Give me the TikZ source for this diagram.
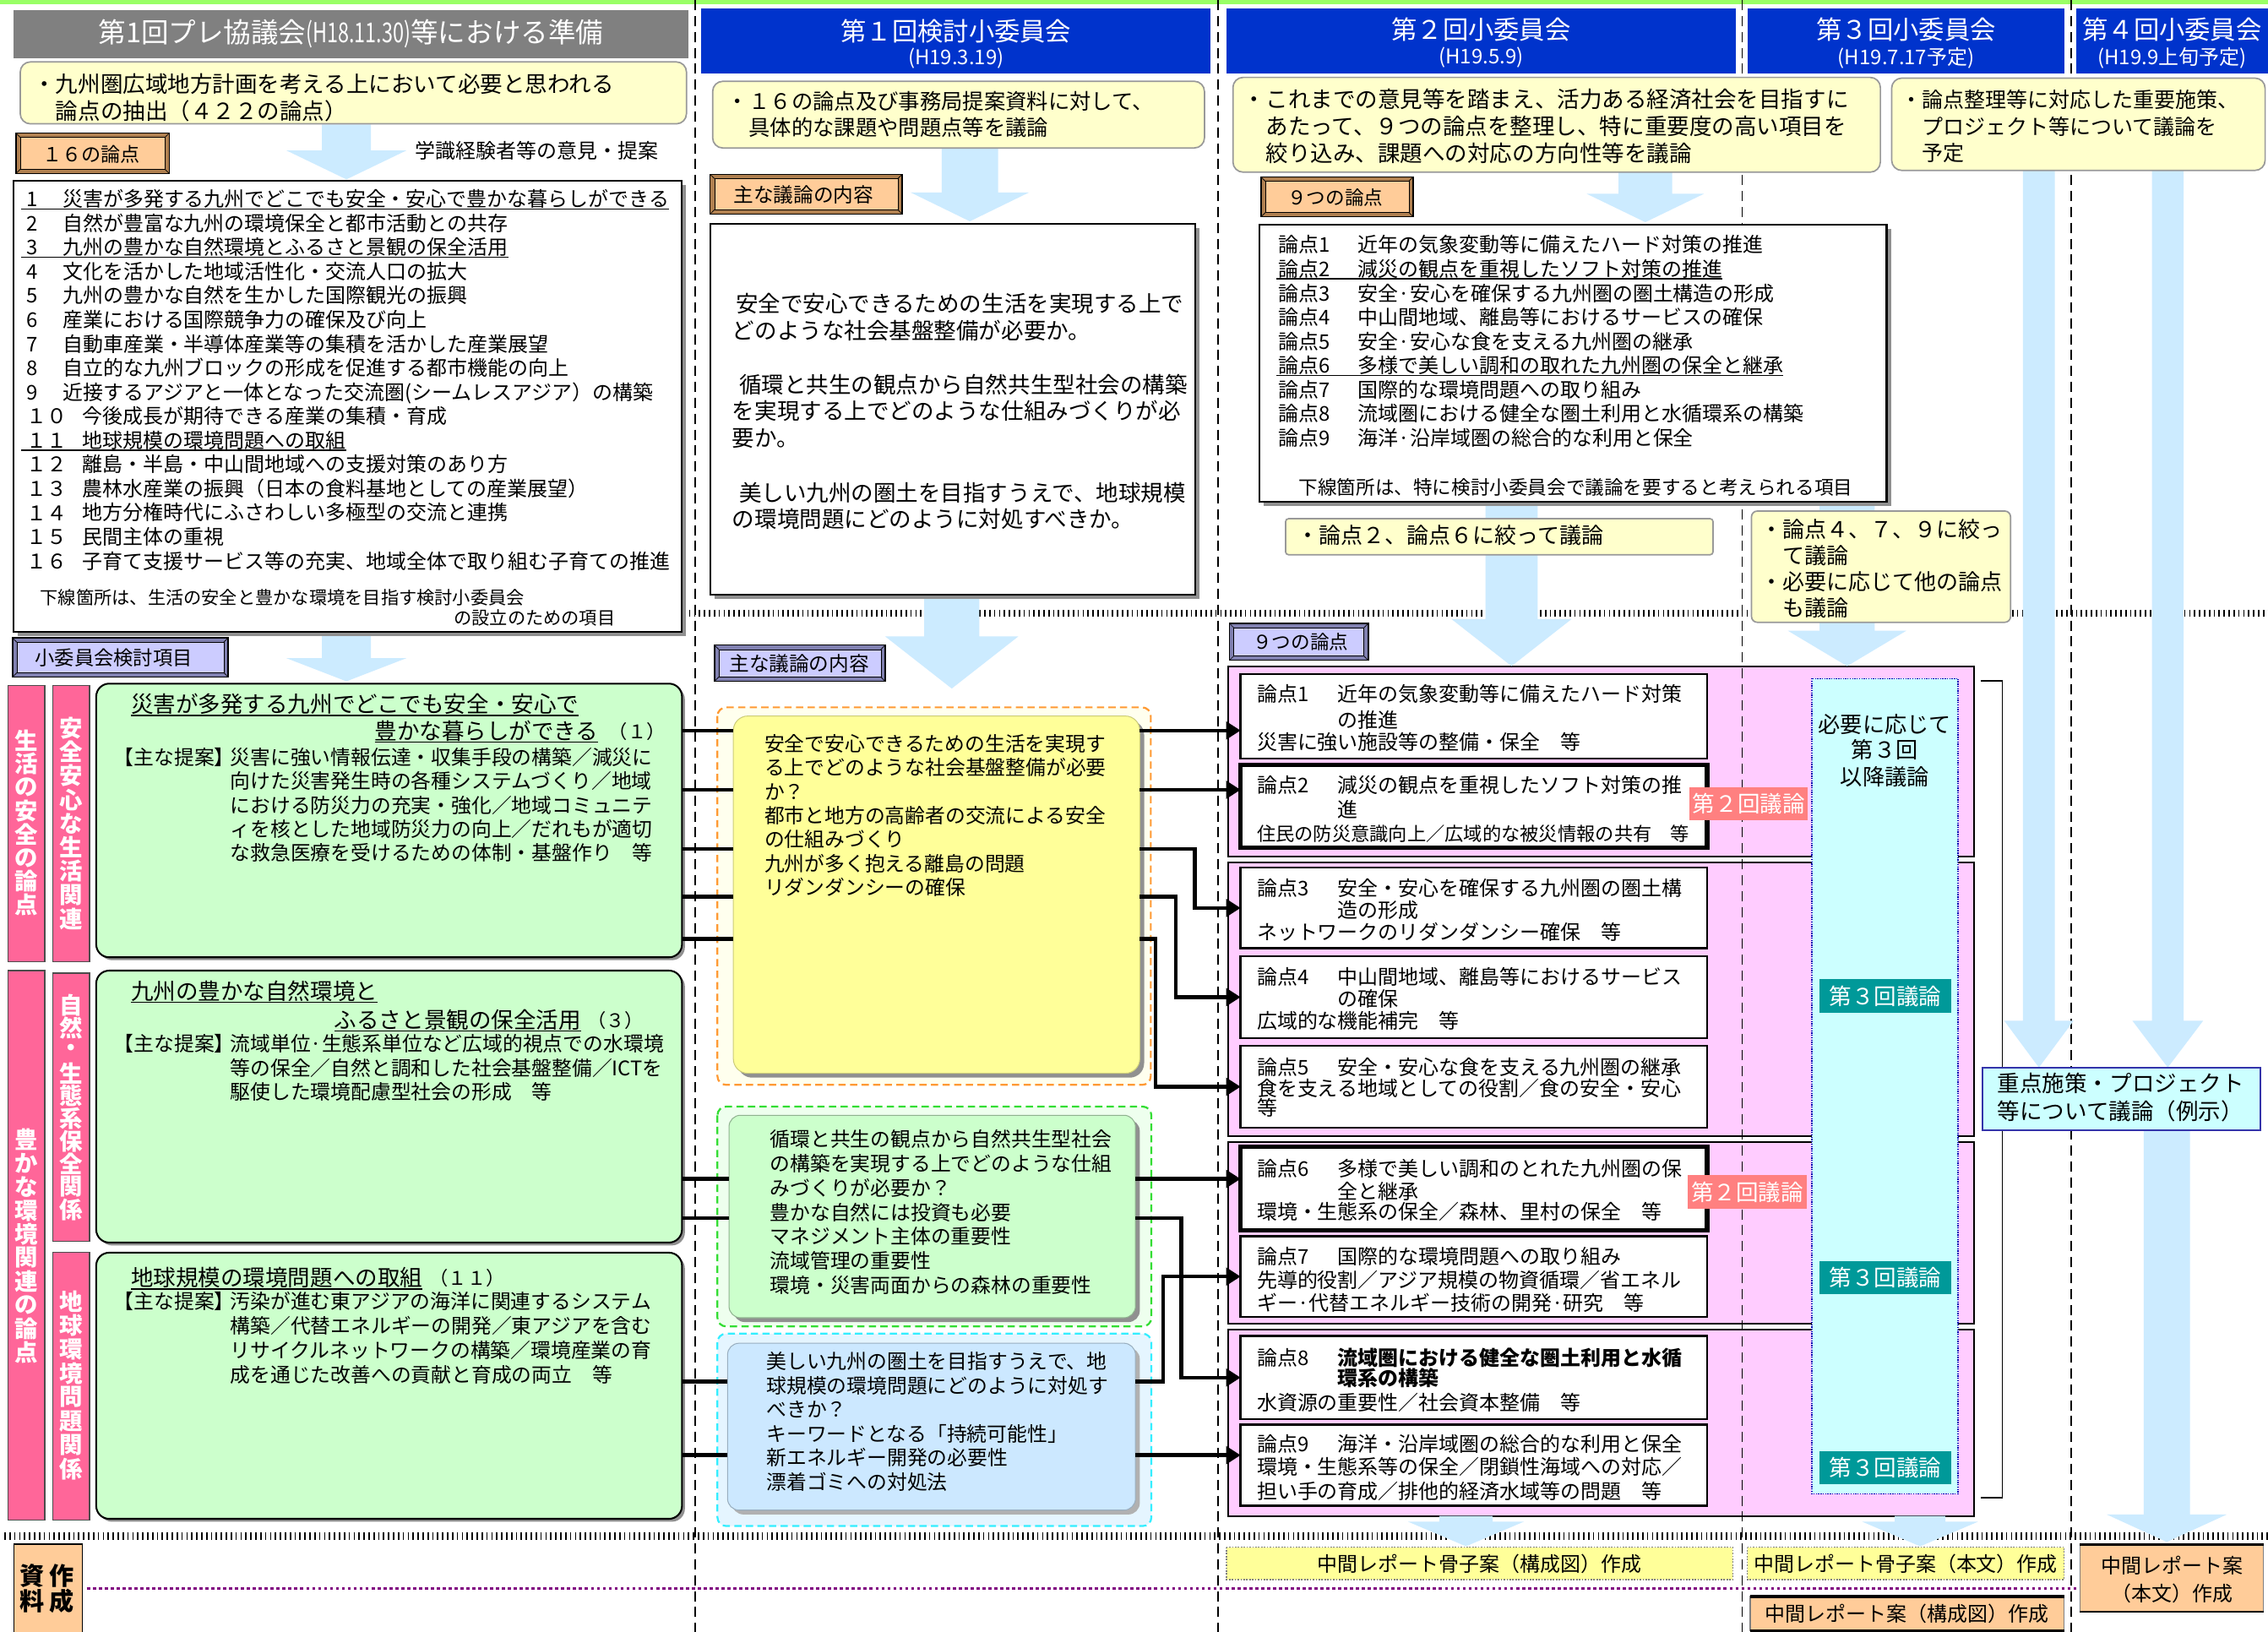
\documentclass[tikz,border=0pt]{standalone}
\usepackage{fontspec}
\usepackage{graphicx}
\setmainfont{Noto Sans CJK JP}
\usetikzlibrary{arrows.meta,calc}
\definecolor{topgreen}{HTML}{99FF66}
\definecolor{hdrgray}{HTML}{808080}
\definecolor{hdrblue}{HTML}{0033CC}
\definecolor{ylw}{HTML}{FFFFCC}
\definecolor{ylwbd}{HTML}{999999}
\definecolor{lblue}{HTML}{CCEBFF}
\definecolor{obtn}{HTML}{FFCC99}
\definecolor{obev}{HTML}{B08050}
\definecolor{lbtn}{HTML}{CCCCFF}
\definecolor{lbev}{HTML}{8080B0}
\definecolor{pinkbar}{HTML}{FF6699}
\definecolor{gbox}{HTML}{CCFFCC}
\definecolor{pinkreg}{HTML}{FFCCFF}
\definecolor{cyanbox}{HTML}{CCFFFF}
\definecolor{tealc}{HTML}{009999}
\definecolor{salmon}{HTML}{FF8080}
\definecolor{myel}{HTML}{FFFF99}
\definecolor{myelbg}{HTML}{FFFFEE}
\definecolor{mgrnbg}{HTML}{EEFFEE}
\definecolor{mblu}{HTML}{CCE8FF}
\definecolor{mblubg}{HTML}{E5F5FF}
\definecolor{dorange}{HTML}{FF9933}
\definecolor{dgreen}{HTML}{33DD33}
\definecolor{dcyan}{HTML}{33EEFF}
\definecolor{shadowc}{HTML}{909090}
\definecolor{jbd}{HTML}{3333AA}
\definecolor{purp}{HTML}{800080}
\newcommand\fs[1]{\fontsize{#1}{#1}\selectfont}
\newcommand\mlines[6]{\foreach \tline [count=\ii from 1] in {#6}{\node[tx,font=#5] (#1\ii) at (#2,{#3+(\ii-1)*#4}) {\tline};}}
\newcommand\vtext[5]{\foreach \tch [count=\ii from 0] in {#5}{\node[vt] (#1\ii) at (#2,{#3+\ii*#4}) {\tch};}}
\newcommand\barrow[6]{\fill[lblue] ({#1-#5},#2) -- ({#1+#5},#2) -- ({#1+#5},#3) -- ({#1+#6},#3) -- (#1,#4) -- ({#1-#6},#3) -- ({#1-#5},#3) -- cycle;}
\newcommand\btn[6]{\fill[#2] (#3,#4) rectangle (#5,#6);
  \fill[#1] ({#3+3},{#4+3}) rectangle ({#5-3},{#6-3});
  \draw[black,line width=0.8] (#3,#4) rectangle (#5,#6);
  \draw[black,line width=0.4] ({#3+3},{#4+3}) rectangle ({#5-3},{#6-3});
  \draw[black,line width=0.4] (#3,#4) -- ({#3+3},{#4+3}) (#5,#4) -- ({#5-3},{#4+3}) (#3,#6) -- ({#3+3},{#6-3}) (#5,#6) -- ({#5-3},{#6-3});}
\begin{document}
\begin{tikzpicture}[x=1pt,y=-1pt,
  tx/.style={anchor=base west,inner sep=0,outer sep=0},
  ct/.style={anchor=center,inner sep=0,outer sep=0},
  vt/.style={anchor=center,inner sep=0,text=white,font=\fs{16}\bfseries},
  conn/.style={line width=2.6,black},
  arr/.style={line width=2.6,black,-{Triangle[length=10pt,width=12pt]}},
  box/.style={anchor=north west,inner sep=0,outer sep=0}]
\useasboundingbox (0,0) rectangle (1568,1128);
\fill[white] (0,0) rectangle (1568,1128);
\fill[topgreen] (0,0) rectangle (1568,3);

% pink regions
\foreach \ya/\yb in {460.5/591.9, 596.2/785.5, 789.4/915, 919/1048}
  \draw[fill=pinkreg,draw=black,line width=1.2] (849.3,\ya) rectangle (1364.5,\yb);

% dashed separators
\foreach \xx in {480.5,842,1204.5,1432}
  \draw[black,line width=0.9,dash pattern=on 7pt off 4pt] (\xx,0) -- (\xx,1128);

% tick lines
\draw[black,line width=5,dash pattern=on 1pt off 2.4pt] (473,424) -- (1568,424);
\draw[black,line width=5.5,dash pattern=on 1pt off 2.4pt] (3,1062) -- (1568,1062);
\draw[purp,line width=2,dash pattern=on 2.2pt off 1.9pt] (60,1098.3) -- (1438,1098.3);

% block arrows
\barrow{239.5}{86}{104}{124}{17}{41.5}
\barrow{239.5}{436.8}{455}{471}{17}{41.5}
\barrow{670.5}{102.3}{133}{153}{19.5}{41}
\barrow{658}{411.2}{440}{476}{19}{46}
\barrow{1137.5}{119}{134}{153.6}{18.5}{40.5}
\barrow{1045}{347}{428}{460.5}{18}{41.5}
\barrow{1277}{347}{436}{460.5}{19}{41}
\barrow{1409.6}{118}{705.6}{738}{11}{24}
\barrow{1498.7}{118}{705.6}{738}{11}{24.5}
\barrow{1498}{781}{1047}{1066}{16}{41.5}
\barrow{1013.5}{1048}{1052}{1069}{18.5}{40}
\barrow{1327.5}{1048}{1052}{1069}{17.5}{40}

% ===== column 1 =====
\fill[hdrgray] (9.3,6.8) rectangle (476,40);
\node[ct,text=white,font=\fs{19}] (h1) at (242.6,23.5) {第1回プレ協議会\scalebox{0.72}[1]{(H18.11.30)}等における準備};
\draw[fill=ylw,draw=ylwbd,line width=1,rounded corners=7] (14,42.8) rectangle (474.6,85.6);
\mlines{ya}{23}{64.2}{18.5}{\fs{15.5}}{・九州圏広域地方計画を考える上において必要と思われる,　論点の抽出（４２２の論点）}
\btn{obtn}{obev}{11}{92}{117}{120}
\node[anchor=west,inner sep=0,font=\fs{13.5}] (b16) at (29,106.5) {１６の論点};
\node[anchor=west,inner sep=0,font=\fs{14}] (gk) at (287,104) {学識経験者等の意見・提案};

\fill[shadowc] (12.3,128) rectangle (474.4,439.8);
\draw[fill=white,draw=black,line width=1.2] (9.3,125) rectangle (471.4,436.8);
\mlines{ln}{18.5}{142.9}{16.68}{\fs{14}}{1,2,3,4,5,6,7,8,9,１０,１１,１２,１３,１４,１５,１６}
\mlines{lt}{43.3}{142.9}{16.68}{\fs{14}}{災害が多発する九州でどこでも安全・安心で豊かな暮らしができる,自然が豊富な九州の環境保全と都市活動との共存,九州の豊かな自然環境とふるさと景観の保全活用,文化を活かした地域活性化・交流人口の拡大,九州の豊かな自然を生かした国際観光の振興,産業における国際競争力の確保及び向上,自動車産業・半導体産業等の集積を活かした産業展望,自立的な九州ブロックの形成を促進する都市機能の向上,近接するアジアと一体となった交流圏(シームレスアジア）の構築}
\mlines{lu}{57.2}{293}{16.68}{\fs{14}}{今後成長が期待できる産業の集積・育成,地球規模の環境問題への取組,離島・半島・中山間地域への支援対策のあり方,農林水産業の振興（日本の食料基地としての産業展望）,地方分権時代にふさわしい多極型の交流と連携,民間主体の重視,子育て支援サービス等の充実、地域全体で取り組む子育ての推進}
\draw[line width=0.9] ($(lt1.base west)+(-28.5,1.6)$) -- ($(lt1.base east)+(0,1.6)$);
\draw[line width=0.9] ($(lt3.base west)+(-28.5,1.6)$) -- ($(lt3.base east)+(0,1.6)$);
\draw[line width=0.9] ($(lu2.base west)+(-42.4,1.6)$) -- ($(lu2.base east)+(0,1.6)$);
\node[tx,font=\fs{12.4}] (lf1) at (27.8,417.6) {下線箇所は、生活の安全と豊かな環境を目指す検討小委員会};
\node[tx,font=\fs{12.4}] (lf2) at (313.8,432.1) {の設立のための項目};

\btn{lbtn}{lbev}{8.7}{441}{157.7}{468}
\node[anchor=west,inner sep=0,font=\fs{13.6}] (sk) at (24,455) {小委員会検討項目};

% pink bars
\draw[fill=pinkbar,draw=black!70,line width=0.8] (5.6,474) rectangle (30.9,664.7);
\draw[fill=pinkbar,draw=black!70,line width=0.8] (36.5,474) rectangle (61.8,664.7);
\draw[fill=pinkbar,draw=black!70,line width=0.8] (5.6,671) rectangle (30.9,1051);
\draw[fill=pinkbar,draw=black!70,line width=0.8] (36.5,672.8) rectangle (61.8,858);
\draw[fill=pinkbar,draw=black!70,line width=0.8] (36.5,865.7) rectangle (61.8,1051);
\vtext{va}{18.2}{512}{16.2}{生,活,の,安,全,の,論,点}
\vtext{vb}{49.1}{503.3}{16.5}{安,全,安,心,な,生,活,関,連}
\vtext{vc}{18.2}{788}{16.3}{豊,か,な,環,境,関,連,の,論,点}
\vtext{vd}{49.1}{694.8}{15.7}{自,然,・,生,態,系,保,全,関,係}
\vtext{ve}{49.1}{899.9}{16.5}{地,球,環,境,問,題,関,係}

% green boxes
\fill[shadowc,rounded corners=9] (68.5,474.6) rectangle (473.5,663.8);
\node[box,draw=black,line width=1.2,fill=gbox,rounded corners=9,minimum width=405,minimum height=189.2] (G1) at (66.5,472.6) {};
\fill[shadowc,rounded corners=9] (68.5,673) rectangle (473.5,861);
\node[box,draw=black,line width=1.2,fill=gbox,rounded corners=9,minimum width=405,minimum height=188] (G2) at (66.5,671) {};
\fill[shadowc,rounded corners=9] (68.5,868) rectangle (473.5,1052);
\node[box,draw=black,line width=1.2,fill=gbox,rounded corners=9,minimum width=405,minimum height=184] (G3) at (66.5,866) {};

\node[tx,font=\fs{15.5}] (g1a) at (90.6,492.6) {災害が多発する九州でどこでも安全・安心で};
\node[tx,font=\fs{15.5}] (g1b) at (259,511) {豊かな暮らしができる};
\node[tx,font=\fs{13}] (g1c) at (421,510.5) {（１）};
\draw[line width=0.9] ($(g1a.base west)+(0,2)$) -- ($(g1a.base east)+(0,2)$);
\draw[line width=0.9] ($(g1b.base west)+(0,2)$) -- ($(g1b.base east)+(0,2)$);
\node[tx,font=\fs{13.9}] (g1d) at (78.8,528.7) {【主な提案】};
\mlines{gA}{159.2}{528.7}{16.55}{\fs{13.9}}{災害に強い情報伝達・収集手段の構築／減災に,向けた災害発生時の各種システムづくり／地域,における防災力の充実・強化／地域コミュニテ,ィを核とした地域防災力の向上／だれもが適切,な救急医療を受けるための体制・基盤作り　等}

\node[tx,font=\fs{15.5}] (g2a) at (90.6,691) {九州の豊かな自然環境と};
\node[tx,font=\fs{15.5}] (g2b) at (231.2,710.7) {ふるさと景観の保全活用};
\node[tx,font=\fs{13}] (g2c) at (406,710.2) {（３）};
\draw[line width=0.9] ($(g2a.base west)+(0,2)$) -- ($(g2a.base east)+(0,2)$);
\draw[line width=0.9] ($(g2b.base west)+(0,2)$) -- ($(g2b.base east)+(0,2)$);
\node[tx,font=\fs{13.9}] (g2d) at (78.8,727) {【主な提案】};
\mlines{gB}{159.2}{727}{16.5}{\fs{13.9}}{流域単位·生態系単位など広域的視点での水環境,等の保全／自然と調和した社会基盤整備／ICTを,駆使した環境配慮型社会の形成　等}

\node[tx,font=\fs{15.5}] (g3a) at (90.6,889) {地球規模の環境問題への取組};
\node[tx,font=\fs{13}] (g3c) at (297,888.5) {（１１）};
\draw[line width=0.9] ($(g3a.base west)+(0,2)$) -- ($(g3a.base east)+(0,2)$);
\node[tx,font=\fs{13.9}] (g3d) at (78.8,905.1) {【主な提案】};
\mlines{gC}{159.2}{905.1}{16.83}{\fs{13.9}}{汚染が進む東アジアの海洋に関連するシステム,構築／代替エネルギーの開発／東アジアを含む,リサイクルネットワークの構築／環境産業の育,成を通じた改善への貢献と育成の両立　等}

% ===== column 2 =====
\fill[hdrblue] (484.8,5.9) rectangle (837,50.9);
\node[ct,text=white,font=\fs{17.7}] (h2a) at (661,21.4) {第１回検討小委員会};
\node[ct,text=white,font=\fs{14}] (h2b) at (661,40.2) {(H19.3.19)};
\draw[fill=ylw,draw=ylwbd,line width=1,rounded corners=7] (492.7,56.2) rectangle (832.7,102.3);
\mlines{yb}{502.8}{75.5}{18.4}{\fs{14.8}}{・１６の論点及び事務局提案資料に対して、,　具体的な課題や問題点等を議論}
\btn{obtn}{obev}{491}{120.5}{623.7}{148}
\node[anchor=west,inner sep=0,font=\fs{13.8}] (bn2) at (507,134.5) {主な議論の内容};
\fill[shadowc] (494.3,157.8) rectangle (829.4,414.2);
\draw[fill=white,draw=black,line width=1.2] (491.3,154.8) rectangle (826.4,411.2);
\node[tx,font=\fs{15.5}] (w1) at (508.7,216) {安全で安心できるための生活を実現する上で};
\node[tx,font=\fs{15.5}] (w2) at (506.3,234.7) {どのような社会基盤整備が必要か。};
\node[tx,font=\fs{15.5}] (w3) at (511,271.7) {循環と共生の観点から自然共生型社会の構築};
\node[tx,font=\fs{15.5}] (w4) at (506.3,289.7) {を実現する上でどのような仕組みづくりが必};
\node[tx,font=\fs{15.5}] (w5) at (506.3,308.4) {要か。};
\node[tx,font=\fs{15.5}] (w6) at (511,346.4) {美しい九州の圏土を目指すうえで、地球規模};
\node[tx,font=\fs{15.5}] (w7) at (506.3,364.7) {の環境問題にどのように対処すべきか。};
\btn{lbtn}{lbev}{494}{446}{612}{471}
\node[anchor=west,inner sep=0,font=\fs{13.8}] (bn3) at (504,458.5) {主な議論の内容};

% mid boxes
\draw[fill=myelbg,draw=dorange,line width=1.3,dash pattern=on 5pt off 3pt,rounded corners=6] (496,489) rectangle (795.6,750);
\fill[shadowc,rounded corners=10] (510,498) rectangle (791,745);
\node[box,fill=myel,draw=myel!80!black,line width=0.6,rounded corners=10,minimum width=281,minimum height=247] (MY) at (507,495) {};
\mlines{my}{528.5}{519.4}{16.55}{\fs{13.9}}{安全で安心できるための生活を実現す,る上でどのような社会基盤整備が必要,か？,都市と地方の高齢者の交流による安全,の仕組みづくり,九州が多く抱える離島の問題,リダンダンシーの確保}

\draw[fill=mgrnbg,draw=dgreen,line width=1.3,dash pattern=on 5pt off 3pt,rounded corners=6] (496,765) rectangle (796,917);
\fill[shadowc,rounded corners=8] (507,774) rectangle (788,914);
\node[box,fill=gbox,draw=gbox!70!black,line width=0.6,rounded corners=8,minimum width=281,minimum height=140] (MG) at (504,771) {};
\mlines{mg}{532.4}{793}{16.77}{\fs{13.9}}{循環と共生の観点から自然共生型社会,の構築を実現する上でどのような仕組,みづくりが必要か？,豊かな自然には投資も必要,マネジメント主体の重要性,流域管理の重要性,環境・災害両面からの森林の重要性}

\draw[fill=mblubg,draw=dcyan,line width=1.3,dash pattern=on 5pt off 3pt,rounded corners=6] (496,922) rectangle (796,1055);
\fill[shadowc!70,rounded corners=8] (506,931.6) rectangle (788,1047);
\node[box,fill=mblu,draw=mblu!75!black,line width=0.6,rounded corners=8,minimum width=282,minimum height=115.4] (MB) at (503,928.6) {};
\mlines{mb}{530}{946.6}{16.6}{\fs{13.9}}{美しい九州の圏土を目指すうえで、地,球規模の環境問題にどのように対処す,べきか？,キーワードとなる「持続可能性」,新エネルギー開発の必要性,漂着ゴミへの対処法}

% ===== column 3-5 headers =====
\fill[hdrblue] (848,5.8) rectangle (1200,51);
\node[ct,text=white,font=\fs{17.7}] (h3a) at (1024,20.4) {第２回小委員会};
\node[ct,text=white,font=\fs{14}] (h3b) at (1024,40) {(H19.5.9)};
\fill[hdrblue] (1208.2,5.8) rectangle (1427.5,51);
\node[ct,text=white,font=\fs{17.7}] (h4a) at (1317.8,20.4) {第３回小委員会};
\node[ct,text=white,font=\fs{14}] (h4b) at (1317.8,40) {(H19.7.17予定)};
\fill[hdrblue] (1435.4,5.8) rectangle (1568,51);
\node[ct,text=white,font=\fs{17.7}] (h5a) at (1501.7,20.4) {第４回小委員会};
\node[ct,text=white,font=\fs{14}] (h5b) at (1501.7,40) {(H19.9上旬予定)};

\draw[fill=ylw,draw=ylwbd,line width=1,rounded corners=7] (852.4,53.5) rectangle (1300,119);
\mlines{yc}{859.6}{74.7}{18.55}{\fs{15.5}}{・これまでの意見等を踏まえ、活力ある経済社会を目指すに,　あたって、９つの論点を整理し、特に重要度の高い項目を,　絞り込み、課題への対応の方向性等を議論}
\draw[fill=ylw,draw=ylwbd,line width=1,rounded corners=7] (1307.8,54) rectangle (1566,117.8);
\mlines{yd}{1314}{74.4}{18.55}{\fs{14.6}}{・論点整理等に対応した重要施策、,　プロジェクト等について議論を,　予定}

\btn{obtn}{obev}{871.8}{122.3}{977}{149.9}
\node[anchor=west,inner sep=0,font=\fs{13.2}] (b9) at (890,136.5) {９つの論点};
\fill[shadowc] (873.9,158.3) rectangle (1307.3,350);
\draw[fill=white,draw=black,line width=1.2] (870.9,155.3) rectangle (1304.3,347);
\mlines{pl}{883.6}{174.6}{16.66}{\fs{14}}{論点1,論点2,論点3,論点4,論点5,論点6,論点7,論点8,論点9}
\mlines{pc}{939}{174.6}{16.66}{\fs{14}}{近年の気象変動等に備えたハード対策の推進,減災の観点を重視したソフト対策の推進,安全·安心を確保する九州圏の圏土構造の形成,中山間地域、離島等におけるサービスの確保,安全·安心な食を支える九州圏の継承,多様で美しい調和の取れた九州圏の保全と継承,国際的な環境問題への取り組み,流域圏における健全な圏土利用と水循環系の構築,海洋·沿岸域圏の総合的な利用と保全}
\draw[line width=0.9] ($(pl2.base west)+(-1,1.6)$) -- ($(pc2.base east)+(0,1.6)$);
\draw[line width=0.9] ($(pl6.base west)+(-1,1.6)$) -- ($(pc6.base east)+(0,1.6)$);
\node[tx,font=\fs{13.2}] (pf) at (898,342) {下線箇所は、特に検討小委員会で議論を要すると考えられる項目};

\draw[fill=ylw,draw=ylwbd,line width=1,rounded corners=2] (888.8,358.6) rectangle (1184.3,383.5);
\node[tx,font=\fs{15.2}] (n26) at (896.6,375.5) {・論点２、論点６に絞って議論};
\draw[fill=ylw,draw=ylwbd,line width=1,rounded corners=4] (1210.9,353.3) rectangle (1390,430.2);
\mlines{ye}{1217.2}{371.6}{18.2}{\fs{15.2}}{・論点４、７、９に絞っ,　て議論,・必要に応じて他の論点,　も議論}
\btn{lbtn}{lbev}{850}{431}{946}{456.5}
\node[anchor=west,inner sep=0,font=\fs{13.2}] (b9b) at (866,444) {９つの論点};

% ===== 論点 boxes =====
\node[box,fill=white,draw=black,line width=1.5,minimum width=322.5,minimum height=58.3] (B1) at (857.7,466) {};
\node[box,fill=white,draw=black,line width=3,minimum width=322.5,minimum height=57.3] (B2) at (857.7,528.9) {};
\node[box,fill=white,draw=black,line width=1.5,minimum width=322.5,minimum height=55.8] (B3) at (857.7,599.8) {};
\node[box,fill=white,draw=black,line width=1.5,minimum width=322.5,minimum height=56.7] (B4) at (857.7,661) {};
\node[box,fill=white,draw=black,line width=1.5,minimum width=322.5,minimum height=56.6] (B5) at (857.7,723) {};
\node[box,fill=white,draw=black,line width=3,minimum width=322.5,minimum height=58.2] (B6) at (857.7,792.6) {};
\node[box,fill=white,draw=black,line width=1.5,minimum width=322.5,minimum height=56] (B7) at (857.7,854.5) {};
\node[box,fill=white,draw=black,line width=1.5,minimum width=322.5,minimum height=57.3] (B8) at (857.7,923.7) {};
\node[box,fill=white,draw=black,line width=1.5,minimum width=322.5,minimum height=56] (B9) at (857.7,985) {};

\node[tx,font=\fs{14}] (b1a) at (869,484.8) {論点1};
\node[tx,font=\fs{14}] (b1b) at (925,484.8) {近年の気象変動等に備えたハード対策};
\node[tx,font=\fs{14}] (b1c) at (925,502.9) {の推進};
\node[tx,font=\fs{14}] (b1d) at (869,518) {災害に強い施設等の整備・保全　等};
\node[tx,font=\fs{14}] (b2a) at (869,548.2) {論点2};
\node[tx,font=\fs{14}] (b2b) at (925,548.2) {減災の観点を重視したソフト対策の推};
\node[tx,font=\fs{14}] (b2c) at (925,565.2) {進};
\node[tx,font=\fs{13}] (b2d) at (869,581.2) {住民の防災意識向上／広域的な被災情報の共有　等};
\node[tx,font=\fs{14}] (b3a) at (869,619.5) {論点3};
\node[tx,font=\fs{14}] (b3b) at (925,619.5) {安全・安心を確保する九州圏の圏土構};
\node[tx,font=\fs{14}] (b3c) at (925,634.7) {造の形成};
\node[tx,font=\fs{14}] (b3d) at (869,649.7) {ネットワークのリダンダンシー確保　等};
\node[tx,font=\fs{14}] (b4a) at (869,680.9) {論点4};
\node[tx,font=\fs{14}] (b4b) at (925,680.9) {中山間地域、離島等におけるサービス};
\node[tx,font=\fs{14}] (b4c) at (925,696) {の確保};
\node[tx,font=\fs{14}] (b4d) at (869,711) {広域的な機能補完　等};
\node[tx,font=\fs{14}] (b5a) at (869,743.2) {論点5};
\node[tx,font=\fs{14}] (b5b) at (925,743.2) {安全・安心な食を支える九州圏の継承};
\node[tx,font=\fs{14}] (b5c) at (869,757.9) {食を支える地域としての役割／食の安全・安心};
\node[tx,font=\fs{14}] (b5d) at (869,771.2) {等};
\node[tx,font=\fs{14}] (b6a) at (869,813.2) {論点6};
\node[tx,font=\fs{14}] (b6b) at (925,813.2) {多様で美しい調和のとれた九州圏の保};
\node[tx,font=\fs{14}] (b6c) at (925,828.7) {全と継承};
\node[tx,font=\fs{14}] (b6d) at (869,843.2) {環境・生態系の保全／森林、里村の保全　等};
\node[tx,font=\fs{14}] (b7a) at (869,874.2) {論点7};
\node[tx,font=\fs{14}] (b7b) at (925,874.2) {国際的な環境問題への取り組み};
\node[tx,font=\fs{14}] (b7c) at (869,890.2) {先導的役割／アジア規模の物資循環／省エネル};
\node[tx,font=\fs{14}] (b7d) at (869,906.2) {ギー·代替エネルギー技術の開発·研究　等};
\node[tx,font=\fs{14}] (b8a) at (869,943.8) {論点8};
\node[tx,font=\fs{14}\bfseries] (b8b) at (925,943.8) {流域圏における健全な圏土利用と水循};
\node[tx,font=\fs{14}\bfseries] (b8c) at (925,958.2) {環系の構築};
\node[tx,font=\fs{14}] (b8d) at (869,974.7) {水資源の重要性／社会資本整備　等};
\node[tx,font=\fs{14}] (b9a) at (869,1003.8) {論点9};
\node[tx,font=\fs{14}] (b9b2) at (925,1003.8) {海洋・沿岸域圏の総合的な利用と保全};
\node[tx,font=\fs{14}] (b9c) at (869,1019.2) {環境・生態系等の保全／閉鎖性海域への対応／};
\node[tx,font=\fs{14}] (b9d) at (869,1036.2) {担い手の育成／排他的経済水域等の問題　等};

% cyan column
\draw[fill=cyanbox,draw=blue!70!black,line width=0.7,dash pattern=on 0.8pt off 0.8pt] (1252.6,469) rectangle (1353.7,1032.6);
\node[ct,font=\fs{15.3}] (c1) at (1303,500.8) {必要に応じて};
\node[ct,font=\fs{15.3}] (c2) at (1303,518) {第３回};
\node[ct,font=\fs{15.3}] (c3) at (1303,537) {以降議論};

% labels
\node[box,fill=salmon,text=white,font=\fs{15.5},minimum width=82,minimum height=23.3] (L2a) at (1168,544) {第２回議論};
\node[box,fill=salmon,text=white,font=\fs{15.5},minimum width=82,minimum height=23.3] (L2b) at (1167,812.5) {第２回議論};
\node[box,fill=tealc,text=white,font=\fs{15.5},minimum width=91,minimum height=23] (L3a) at (1258,677) {第３回議論};
\node[box,fill=tealc,text=white,font=\fs{15.5},minimum width=91,minimum height=23] (L3b) at (1258,871.6) {第３回議論};
\node[box,fill=tealc,text=white,font=\fs{15.5},minimum width=91,minimum height=23] (L3c) at (1258,1003) {第３回議論};

% bracket and project box
\draw[black,line width=1] (1369.4,470.7) -- (1384.4,470.7) -- (1384.4,1035.3) -- (1369.4,1035.3);
\node[box,fill=cyanbox,draw=jbd,line width=1.1,minimum width=192.3,minimum height=43.4] (JP) at (1370.4,738) {};
\node[tx,font=\fs{15.5}] (jp1) at (1381,754.8) {重点施策・プロジェクト};
\node[tx,font=\fs{15.5}] (jp2) at (1381,773.8) {等について議論（例示）};

% connectors
\coordinate (k1) at (0,505);
\coordinate (k2) at (0,546);
\coordinate (k3) at (0,587);
\coordinate (k4) at (0,620);
\coordinate (k5) at (0,649);
\coordinate (k6) at (0,815);
\coordinate (k7) at (0,842);
\coordinate (k8) at (0,955);
\coordinate (k9) at (0,1006);
\foreach \kk in {k1,k2,k3,k4,k5} \draw[conn] (G1.east |- \kk) -- (MY.west |- \kk);
\foreach \kk in {k6,k7} \draw[conn] (G2.east |- \kk) -- (MG.west |- \kk);
\foreach \kk in {k8,k9} \draw[conn] (G3.east |- \kk) -- (MB.west |- \kk);
\draw[arr] (MY.east |- k1) -- (B1.west |- k1);
\draw[arr] (MY.east |- k2) -- (B2.west |- k2);
\draw[arr] (MY.east |- k3) -- (826,587) |- (B3.west);
\draw[arr] (MY.east |- k4) -- (813,620) |- (B4.west);
\draw[arr] (MY.east |- k5) -- (799,649) |- (B5.west);
\draw[arr] (MG.east |- k6) -- (B6.west |- k6);
\draw[arr] (MG.east |- k7) -- (816.6,842) |- (B8.west);
\draw[arr] (MB.east |- k8) -- (804,955) |- (B7.west);
\draw[arr] (MB.east |- k9) -- (B9.west |- k9);

% bottom boxes
\draw[fill=myel,draw=gray,line width=0.8,dash pattern=on 1pt off 1pt] (848,1069.6) rectangle (1198,1092);
\node[ct,font=\fs{14}] (bt1) at (1023,1081) {中間レポート骨子案（構成図）作成};
\draw[fill=myel,draw=gray,line width=0.8,dash pattern=on 1pt off 1pt] (1208,1069.6) rectangle (1427,1092);
\node[ct,font=\fs{14}] (bt2) at (1317.5,1081) {中間レポート骨子案（本文）作成};
\draw[fill=obtn,draw=gray,line width=0.6] (1210,1103.7) rectangle (1427,1127.5);
\draw[black,line width=2] (1210,1103.7) -- (1427,1103.7);
\draw[black,line width=1.5] (1210,1127.5) -- (1427,1127.5);
\node[ct,font=\fs{14}] (bt3) at (1318.5,1115.5) {中間レポート案（構成図）作成};
\draw[fill=obtn,draw=gray,line width=0.6] (1438,1067.7) rectangle (1565,1114.3);
\draw[black,line width=2] (1438,1067.7) -- (1565,1067.7);
\draw[black,line width=1.2] (1438,1114.3) -- (1565,1114.3);
\node[ct,font=\fs{14}] (bt4a) at (1501.5,1082) {中間レポート案};
\node[ct,font=\fs{14}] (bt4b) at (1501.5,1101.8) {（本文）作成};
\draw[fill=obtn,draw=black,line width=1] (9.7,1067.7) rectangle (57,1129);
\node[ct,font=\fs{17}\bfseries] (s1) at (22,1089.6) {資};
\node[ct,font=\fs{17}\bfseries] (s2) at (42.5,1089.6) {作};
\node[ct,font=\fs{17}\bfseries] (s3) at (22,1106.7) {料};
\node[ct,font=\fs{17}\bfseries] (s4) at (42.5,1106.7) {成};
\end{tikzpicture}
\end{document}
